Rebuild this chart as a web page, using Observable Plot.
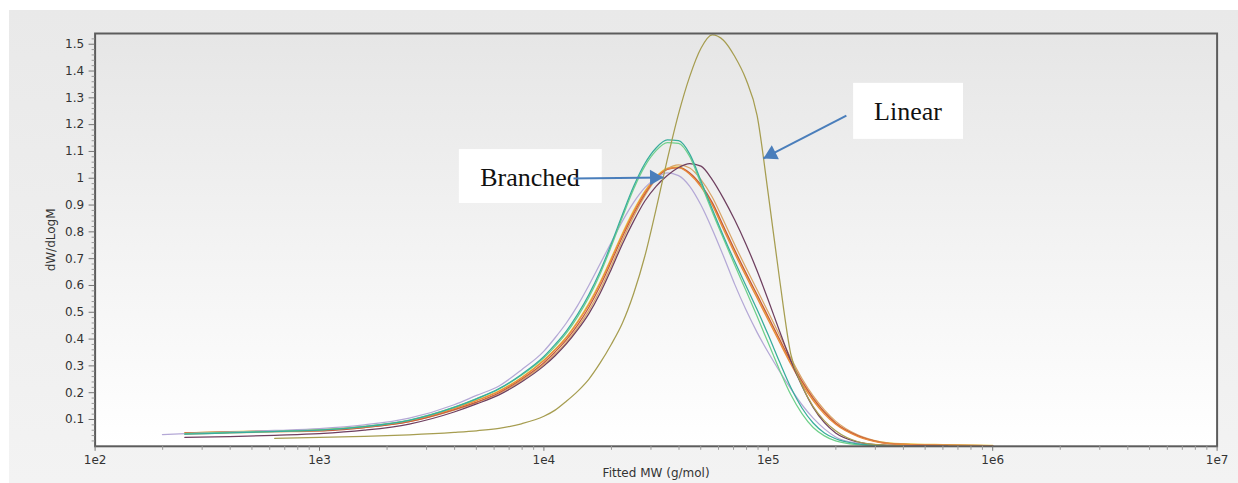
<!DOCTYPE html>
<html>
<head>
<meta charset="utf-8">
<script src="https://cdn.jsdelivr.net/npm/d3@7"></script>
<script src="https://cdn.jsdelivr.net/npm/@observablehq/plot@0.6"></script>
<style>
  html, body { margin: 0; padding: 0; background: #ffffff; }
  #bg { position: absolute; left: 9px; top: 10px; width: 1229px; height: 473px;
        background: linear-gradient(#e9e9e9, #f3f3f3); }
  #chart { position: absolute; left: 0; top: 0; }
</style>
</head>
<body>
<div id="bg"></div>
<div id="chart"></div>
<script>
// log10 of molecular weight, shared grid
const logM = [2.3,2.4,2.6,2.8,3.0,3.2,3.4,3.6,3.7,3.8,3.9,4.0,4.05,4.1,4.15,4.2,4.25,4.3,4.35,4.4,4.45,4.5,4.55,4.6,4.65,4.7,4.75,4.8,4.85,4.9,4.95,5.0,5.05,5.1,5.15,5.2,5.25,5.3,5.4,5.5,5.6,5.8,6.0];

// dW/dLogM series
const linear   = [null,null,null,0.03,0.033,0.037,0.043,0.052,0.058,0.067,0.084, 0.112,0.135,0.168,0.205,0.25,0.31,0.38,0.46,0.57,0.71,0.885,1.07,1.24, 1.38,1.485,1.535,1.515,1.455,1.37,1.235,0.94,0.625,0.345,0.228,0.148,0.095,0.058,0.017,0.005,0.002,null,null];
const teal     = [null,0.045,0.05,0.055,0.06,0.073,0.097,0.145,0.177,0.215,0.268, 0.335,0.38,0.43,0.492,0.565,0.652,0.755,0.865,0.97,1.055,1.113,1.143,1.14, 1.09,0.99,0.885,0.785,0.69,0.6,0.51,0.415,0.315,0.22,0.143,0.087,0.05,0.028,0.009,0.003,0.001,null,null];
const green    = [null,0.047,0.052,0.056,0.061,0.074,0.098,0.146,0.178,0.214,0.265, 0.33,0.373,0.422,0.483,0.555,0.642,0.745,0.855,0.96,1.045,1.103,1.133,1.13, 1.08,0.98,0.875,0.775,0.677,0.582,0.485,0.385,0.285,0.193,0.122,0.07,0.039,0.02,0.006,0.002,0.001,null,null];
const orange   = [null,0.048,0.052,0.056,0.060,0.072,0.095,0.14,0.17,0.205,0.255, 0.32,0.36,0.405,0.462,0.528,0.607,0.697,0.79,0.875,0.948,1.003,1.035,1.04, 1.015,0.968,0.9,0.81,0.72,0.635,0.553,0.47,0.388,0.307,0.233,0.17,0.12,0.082,0.036,0.014,0.007,0.003,0.002];
const red      = [null,0.05,0.054,0.057,0.058,0.07,0.092,0.137,0.165,0.2,0.25, 0.312,0.352,0.397,0.452,0.518,0.597,0.688,0.782,0.868,0.942,1.0,1.033,1.04, 1.02,0.975,0.91,0.822,0.733,0.648,0.566,0.483,0.4,0.318,0.243,0.18,0.128,0.087,0.039,0.015,0.007,0.003,0.002];
const tan      = [null,0.045,0.05,0.054,0.058,0.07,0.092,0.135,0.163,0.197,0.245, 0.305,0.344,0.388,0.442,0.505,0.582,0.672,0.768,0.857,0.935,0.997,1.035,1.05, 1.038,0.995,0.93,0.843,0.753,0.667,0.584,0.5,0.415,0.33,0.253,0.188,0.136,0.094,0.042,0.017,0.008,0.004,0.002];
const yellow   = [null,0.05,0.055,0.058,0.062,0.074,0.096,0.142,0.172,0.207,0.257, 0.322,0.362,0.408,0.466,0.533,0.612,0.702,0.795,0.88,0.952,1.006,1.038,1.042, 1.018,0.972,0.905,0.816,0.727,0.642,0.56,0.477,0.395,0.313,0.239,0.176,0.126,0.086,0.039,0.017,0.01,0.006,0.003];
const maroon   = [null,0.033,0.036,0.041,0.047,0.06,0.083,0.128,0.158,0.192,0.24, 0.3,0.338,0.382,0.434,0.494,0.57,0.66,0.755,0.84,0.915,0.97,1.01,1.04, 1.055,1.045,0.995,0.925,0.845,0.755,0.655,0.545,0.43,0.32,0.225,0.145,0.088,0.05,0.016,0.005,0.002,0.001,null];
const lavender = [0.044,0.047,0.053,0.059,0.066,0.08,0.105,0.155,0.19,0.225,0.285, 0.355,0.405,0.46,0.525,0.6,0.68,0.76,0.84,0.91,0.965,1.0,1.02,1.01, 0.97,0.9,0.81,0.71,0.605,0.51,0.425,0.35,0.28,0.215,0.155,0.105,0.065,0.035,0.011,0.003,0.001,null,null];

const seriesNames  = ["yellow","tan","red","orange","lavender","maroon","green","teal","linear"];
const seriesValues = [yellow, tan, red, orange, lavender, maroon, green, teal, linear];
const seriesColors = ["#ecca45","#d9a566","#c4583e","#e8893c","#b4a8d6","#6e3f5f","#6fd08a","#38ad9c","#a69d50"];

// axis ticks
const yTicks = [0.1,0.2,0.3,0.4,0.5,0.6,0.7,0.8,0.9,1.0,1.1,1.2,1.3,1.4,1.5];
const yMinor = d3.range(1, 77).map(i => +(i * 0.02).toFixed(2)).filter(v => Math.abs(v * 10 - Math.round(v * 10)) > 1e-6);
const xTicks = [1e2, 1e3, 1e4, 1e5, 1e6, 1e7];
const xTickLabels = ["1e2","1e3","1e4","1e5","1e6","1e7"];
const xMinor = [2,3,4,5,6].flatMap(k => [2,3,4,5,6,7,8,9].map(m => m * 10 ** k));

// annotations (data units)
const annoText = ["Branched", "Linear"];
const annoTextX = [8670, 419500];
const annoTextY = [1.003, 1.249];
const boxX1 = [4200, 240000], boxX2 = [18200, 741000];
const boxY1 = [0.906, 1.145], boxY2 = [1.107, 1.354];
const arrowX1 = [13550, 222800], arrowY1 = [0.999, 1.234];
const arrowX2 = [34100, 95100],  arrowY2 = [1.003, 1.074];

const rows = [];
seriesNames.forEach((name, s) => {
  logM.forEach((l, i) => {
    const v = seriesValues[s][i];
    if (v != null) rows.push({M: 10 ** l, y: v, s: name});
  });
});

const boxes = annoText.map((t, i) => ({x1: boxX1[i], x2: boxX2[i], y1: boxY1[i], y2: boxY2[i]}));
const labels = annoText.map((t, i) => ({t, x: annoTextX[i], y: annoTextY[i]}));
const arrows = annoText.map((t, i) => ({x1: arrowX1[i], y1: arrowY1[i], x2: arrowX2[i], y2: arrowY2[i]}));

const W = 1238, H = 483;
const mL = 94.6, mR = 21.4, mT = 33, mB = 37.2;
const arrowColor = "#4a7ebb";

const headR = 7.4;
const tipOff = Math.sqrt(headR * headR * Math.PI) * 0.6824;

const svg = Plot.plot({
  width: W, height: H,
  marginLeft: mL, marginRight: mR, marginTop: mT, marginBottom: mB,
  style: {background: "transparent", fontFamily: "DejaVu Sans, Verdana, sans-serif", fontSize: "12px"},
  x: {type: "log", domain: [1e2, 1e7], axis: null},
  y: {domain: [0, 1.54], axis: null},
  color: {domain: seriesNames, range: seriesColors},
  marks: [
    Plot.frame({fill: "url(#plotgrad)", stroke: null}),
    Plot.line(rows, {x: "M", y: "y", z: "s", stroke: "s", strokeWidth: 1.25, curve: "monotone-x"}),
    Plot.frame({stroke: "#5c5c5c", strokeWidth: 2}),
    Plot.axisY({ticks: yTicks, tickSize: 6, tickPadding: 5, stroke: "#777", fill: "#333", fontSize: 12,
                tickFormat: d => String(+d.toFixed(1)), label: null}),
    Plot.axisY({ticks: yMinor, tickSize: 3, stroke: "#999", text: null, label: null}),
    Plot.axisX({ticks: xTicks, tickSize: 5, tickPadding: 4, stroke: "#777", fill: "#333", fontSize: 12,
                tickFormat: d => xTickLabels[xTicks.indexOf(d)], label: null}),
    Plot.axisX({ticks: xMinor, tickSize: 4, stroke: "#999", text: null, label: null}),
    Plot.text(["dW/dLogM"], {frameAnchor: "left", dx: -44, rotate: -90, textAnchor: "middle", fill: "#333", fontSize: 12}),
    Plot.text(["Fitted MW (g/mol)"], {frameAnchor: "bottom", dy: 31, fill: "#333", fontSize: 12}),
    Plot.rect(boxes, {x1: "x1", x2: "x2", y1: "y1", y2: "y2", fill: "white"}),
    Plot.text(labels, {x: "x", y: "y", text: "t", fontFamily: "Liberation Serif, Times New Roman, serif",
                       fontSize: 26, fill: "#111"}),
    Plot.link(arrows, {x1: "x1", y1: "y1", x2: "x2", y2: "y2", stroke: arrowColor, strokeWidth: 2}),
    Plot.dot(arrows, {x: "x2", y: "y2", symbol: "triangle2", r: headR, fill: arrowColor, stroke: null,
      render(index, scales, values, dims, context, next) {
        const g = next(index, scales, values, dims, context);
        const paths = g.querySelectorAll("path");
        index.forEach((i, k) => {
          const a = arrows[i];
          const px1 = scales.x(a.x1), py1 = scales.y(a.y1), px2 = scales.x(a.x2), py2 = scales.y(a.y2);
          const ang = Math.atan2(py2 - py1, px2 - px1);
          const cx = px2 - tipOff * Math.cos(ang), cy = py2 - tipOff * Math.sin(ang);
          const deg = ang * 180 / Math.PI + 90;
          paths[k].setAttribute("transform", `translate(${cx},${cy}) rotate(${deg})`);
        });
        return g;
      }})
  ]
});

const ns = "http://www.w3.org/2000/svg";
const defs = document.createElementNS(ns, "defs");
const grad = document.createElementNS(ns, "linearGradient");
grad.setAttribute("id", "plotgrad");
grad.setAttribute("x1", "0"); grad.setAttribute("y1", "0");
grad.setAttribute("x2", "0"); grad.setAttribute("y2", "1");
[["0", "#e6e6e6"], ["1", "#ffffff"]].forEach(([o, c]) => {
  const st = document.createElementNS(ns, "stop");
  st.setAttribute("offset", o); st.setAttribute("stop-color", c);
  grad.appendChild(st);
});
defs.appendChild(grad);
svg.insertBefore(defs, svg.firstChild);
document.getElementById("chart").appendChild(svg);
</script>
</body>
</html>
